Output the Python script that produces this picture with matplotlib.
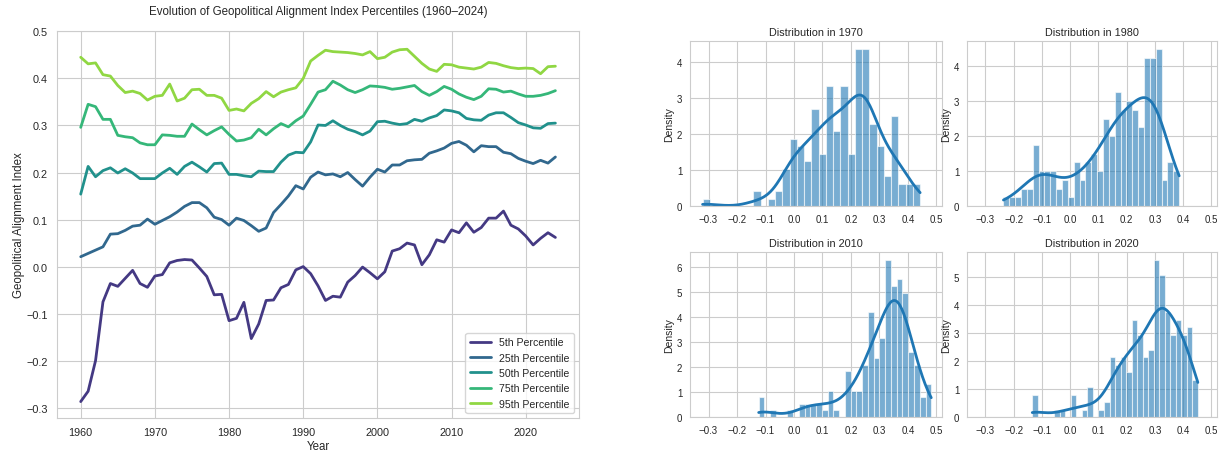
import numpy as np
import matplotlib
matplotlib.use("Agg")
import matplotlib.pyplot as plt
import seaborn as sns

# percentile series, 1960-2024
years = np.arange(1960, 2025)

p5 = [-0.287, -0.265, -0.200, -0.075, -0.036, -0.042, -0.025, -0.008, -0.036, -0.044,
      -0.020, -0.017, 0.008, 0.013, 0.015, 0.014, -0.003, -0.021, -0.060, -0.059,
      -0.115, -0.110, -0.076, -0.153, -0.122, -0.072, -0.071, -0.045, -0.038, -0.007,
      0.000, -0.015, -0.041, -0.072, -0.063, -0.065, -0.033, -0.019, -0.001, -0.013,
      -0.026, -0.011, 0.033, 0.038, 0.050, 0.046, 0.004, 0.025, 0.057, 0.052,
      0.078, 0.072, 0.093, 0.073, 0.083, 0.103, 0.103, 0.118, 0.088, 0.080,
      0.065, 0.046, 0.060, 0.072, 0.062]
p25 = [0.021, 0.028, 0.035, 0.042, 0.069, 0.070, 0.077, 0.086, 0.088, 0.101,
       0.090, 0.098, 0.106, 0.116, 0.128, 0.136, 0.136, 0.125, 0.105, 0.100,
       0.088, 0.103, 0.098, 0.087, 0.075, 0.082, 0.115, 0.132, 0.150, 0.172,
       0.165, 0.190, 0.201, 0.195, 0.197, 0.191, 0.200, 0.185, 0.171, 0.190,
       0.207, 0.201, 0.216, 0.216, 0.225, 0.227, 0.228, 0.241, 0.246, 0.252,
       0.262, 0.266, 0.258, 0.244, 0.257, 0.255, 0.255, 0.243, 0.240, 0.230,
       0.224, 0.219, 0.226, 0.220, 0.233]
p50 = [0.154, 0.213, 0.191, 0.204, 0.210, 0.199, 0.208, 0.199, 0.187, 0.187,
       0.187, 0.199, 0.209, 0.196, 0.213, 0.222, 0.212, 0.201, 0.219, 0.220,
       0.196, 0.196, 0.193, 0.191, 0.203, 0.202, 0.202, 0.222, 0.237, 0.243,
       0.242, 0.265, 0.301, 0.300, 0.310, 0.300, 0.292, 0.287, 0.280, 0.288,
       0.308, 0.309, 0.305, 0.302, 0.304, 0.313, 0.309, 0.316, 0.321, 0.333,
       0.331, 0.327, 0.315, 0.312, 0.311, 0.322, 0.327, 0.327, 0.317, 0.306,
       0.301, 0.295, 0.294, 0.304, 0.305]
p75 = [0.296, 0.345, 0.340, 0.313, 0.313, 0.279, 0.276, 0.274, 0.263, 0.259,
       0.259, 0.280, 0.279, 0.277, 0.277, 0.303, 0.291, 0.280, 0.289, 0.297,
       0.281, 0.267, 0.269, 0.274, 0.292, 0.280, 0.293, 0.304, 0.297, 0.310,
       0.320, 0.345, 0.371, 0.376, 0.394, 0.386, 0.376, 0.370, 0.376, 0.384,
       0.383, 0.381, 0.377, 0.379, 0.382, 0.385, 0.372, 0.364, 0.372, 0.383,
       0.377, 0.367, 0.360, 0.355, 0.362, 0.378, 0.377, 0.371, 0.373, 0.367,
       0.362, 0.362, 0.364, 0.368, 0.374]
p95 = [0.445, 0.431, 0.433, 0.408, 0.405, 0.385, 0.370, 0.373, 0.368, 0.354,
       0.362, 0.364, 0.388, 0.352, 0.358, 0.376, 0.377, 0.364, 0.364, 0.358,
       0.332, 0.335, 0.331, 0.347, 0.357, 0.372, 0.361, 0.371, 0.376, 0.380,
       0.400, 0.437, 0.449, 0.460, 0.457, 0.456, 0.455, 0.453, 0.450, 0.457,
       0.442, 0.445, 0.456, 0.461, 0.462, 0.447, 0.432, 0.420, 0.415, 0.430,
       0.429, 0.424, 0.422, 0.420, 0.424, 0.434, 0.432, 0.427, 0.423, 0.421,
       0.422, 0.421, 0.410, 0.425, 0.426]
labels = ["5th Percentile", "25th Percentile", "50th Percentile",
          "75th Percentile", "95th Percentile"]

# histograms: 30 bins between data min and max, counts per bin
hist_years = [1970, 1980, 2010, 2020]
hist_range = [(-0.321, 0.443), (-0.236, 0.386), (-0.124, 0.482), (-0.134, 0.452)]
hist_counts = [
    [1, 0, 0, 0, 0, 0, 0, 2, 0, 1, 2, 5, 9, 8, 6, 13, 7, 16, 10, 16,
     7, 21, 21, 11, 8, 4, 12, 3, 3, 3],
    [1, 1, 1, 2, 2, 7, 4, 4, 4, 2, 3, 1, 5, 3, 5, 6, 4, 10, 8, 13,
     11, 12, 11, 9, 17, 17, 18, 3, 5, 4],
    [3, 0, 1, 0, 0, 1, 0, 2, 2, 2, 2, 1, 4, 1, 0, 7, 4, 4, 8, 16,
     9, 12, 24, 20, 21, 19, 10, 8, 3, 5],
    [3, 0, 0, 0, 1, 1, 0, 3, 0, 1, 4, 0, 1, 2, 8, 7, 8, 6, 13, 11,
     8, 9, 21, 19, 14, 11, 13, 11, 12, 5],
]

sns.set_style("whitegrid")
plt.rcParams['font.family'] = ['Liberation Sans', 'DejaVu Sans']

colors = sns.color_palette("viridis", 5)

fig = plt.figure(figsize=(12.2, 4.56), dpi=100)
ax = fig.add_axes([0.0467, 0.081, 0.428, 0.849])
for vals, lab, c in zip([p5, p25, p50, p75, p95], labels, colors):
    ax.plot(years, vals, color=c, lw=2, label=lab)
ax.set_ylim(-0.322, 0.501)
ax.set_title("Evolution of Geopolitical Alignment Index Percentiles (1960\u20132024)",
             fontsize=8.3, pad=12)
ax.set_xlabel("Year", fontsize=8.3, labelpad=2)
ax.set_ylabel("Geopolitical Alignment Index", fontsize=8.3, labelpad=1)
ax.tick_params(labelsize=7.8, pad=3)
ax.legend(loc="lower right", fontsize=7.6)

# KDE from binned counts (gaussian, Scott bandwidth)
def kde_curve(lo, hi, counts):
    counts = np.asarray(counts, float)
    edges = np.linspace(lo, hi, len(counts) + 1)
    centers = (edges[:-1] + edges[1:]) / 2
    n = counts.sum()
    w = counts / n
    mean = np.sum(w * centers)
    var = np.sum(w * (centers - mean) ** 2) * n / (n - 1)
    bw = np.sqrt(var) * n ** (-1 / 5)
    xs = np.linspace(lo, hi, 200)
    ys = np.sum(w[None, :] * np.exp(-0.5 * ((xs[:, None] - centers[None, :]) / bw) ** 2), axis=1)
    ys /= bw * np.sqrt(2 * np.pi)
    return xs, ys, edges

pos = [[0.5656, 0.546, 0.2066, 0.362], [0.7926, 0.546, 0.205, 0.362],
       [0.5656, 0.0833, 0.2066, 0.362], [0.7926, 0.0833, 0.205, 0.362]]
blue = "#1f77b4"
for p, yr, (lo, hi), cnt in zip(pos, hist_years, hist_range, hist_counts):
    hx = fig.add_axes(p)
    xs, ys, edges = kde_curve(lo, hi, cnt)
    width = edges[1] - edges[0]
    dens = np.asarray(cnt) / (np.sum(cnt) * width)
    hx.bar(edges[:-1], dens, width=width, align="edge", color=blue, alpha=0.6,
           edgecolor="white", linewidth=0.8)
    hx.plot(xs, ys, color=blue, lw=2)
    hx.set_xlim(-0.365, 0.52)
    hx.set_xticks(np.arange(-0.3, 0.51, 0.1))
    hx.set_title(f"Distribution in {yr}", fontsize=7.8, pad=4)
    hx.set_ylabel("Density", fontsize=7.5, labelpad=2)
    hx.tick_params(labelsize=7, pad=2)

fig.savefig("out.png", dpi=100)
